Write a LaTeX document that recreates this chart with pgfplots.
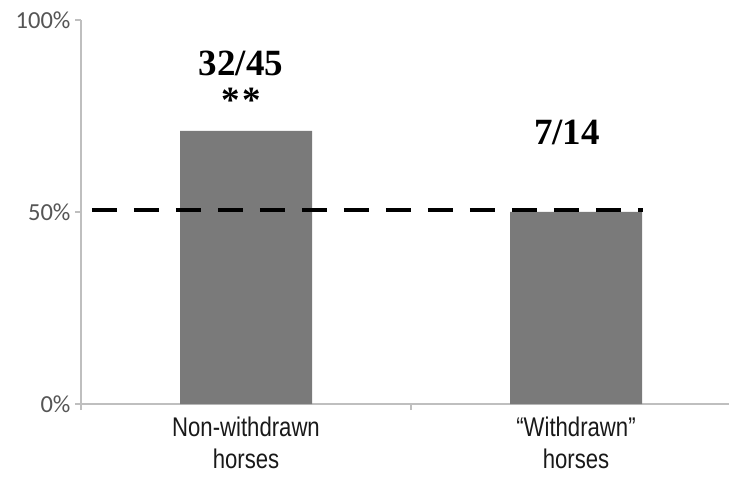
\documentclass[border=0pt]{standalone}
\usepackage{fontspec}
\setmainfont{Liberation Serif}
\newfontfamily\tickfont{Carlito}
\newfontfamily\catfont[FakeStretch=0.82]{Liberation Sans}
\usepackage{pgfplots}
\pgfplotsset{compat=1.18}
\definecolor{axisgray}{HTML}{BFBFBF}
\definecolor{bargray}{HTML}{7A7A7A}
\definecolor{ticktext}{HTML}{555555}

\begin{document}
\begin{tikzpicture}
\begin{axis}[
  scale only axis, width=660bp, height=384bp,
  xmin=-0.5, xmax=1.5, ymin=0, ymax=100,
  axis x line=bottom, axis y line=left,
  axis line style={draw=axisgray, line width=1.5bp, -},
  xtick={-0.5,0.5,1.5},
  xticklabels={{Non-withdrawn\\horses},{“Withdrawn”\\horses}},
  x tick label as interval,
  ytick={0,50,100}, yticklabels={0\%,50\%,100\%},
  tick align=outside, major tick length=6bp,
  tick style={draw=axisgray, line width=1.5bp},
  yticklabel style={font=\tickfont\fontsize{24.5bp}{28bp}\selectfont, text=ticktext, xshift=-1bp},
  xticklabel style={font=\catfont\fontsize{27bp}{32bp}\selectfont, align=center, text=black!90, yshift=-6bp, inner sep=1bp},
  clip=false,
]
% share of horses choosing the target: 32/45 and 7/14
\addplot[ybar, bar width=0.4, bar shift=0pt, fill=bargray, draw=none] coordinates {(0,71.1) (1,50)};
% chance level
\addplot[black, line width=4.5bp, dash pattern=on 25bp off 17bp] coordinates {(-0.467,50.5) (1.203,50.5)};
\node[font=\bfseries\fontsize{37bp}{37bp}\selectfont] at (axis cs:-0.015,88.8) {32/45};
\node[font=\bfseries\fontsize{37bp}{37bp}\selectfont, inner sep=0pt] at (axis cs:-0.015,79.2) {*\kern3bp*};
\node[font=\bfseries\fontsize{37bp}{37bp}\selectfont] at (axis cs:0.973,70.6) {7/14};
\end{axis}
\pgfresetboundingbox
\path ([shift={(-81bp,-74bp)}]current axis.south west) rectangle ++(729bp,478bp);
\end{tikzpicture}
\end{document}
